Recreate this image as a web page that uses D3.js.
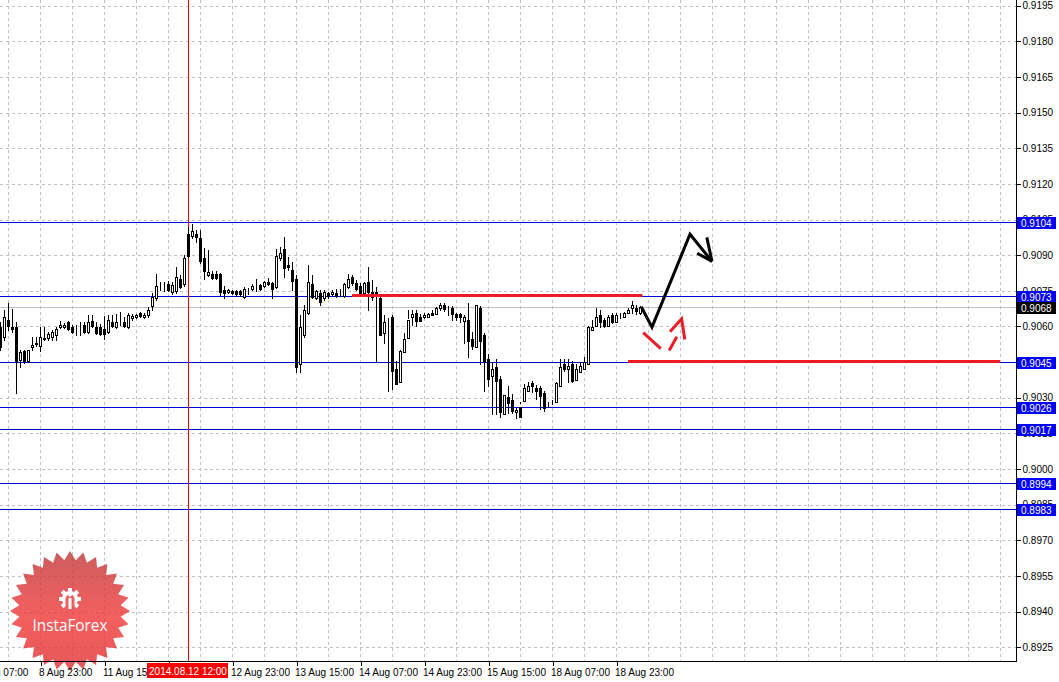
<!DOCTYPE html>
<html><head><meta charset="utf-8">
<script src="https://cdn.jsdelivr.net/npm/d3@7"></script>
<style>
html,body{margin:0;padding:0;background:#fff;overflow:hidden}
svg{display:block}
</style></head>
<body>
<svg id="chart" width="1059" height="682"></svg>
<script>
// ---- DATA (USDCHF H1, bars from 8 Aug 13:00) ----
const opens = [0.90599,0.90557,0.90628,0.90599,0.90599,0.90457,0.90495,0.90453,0.90512,0.90528,
0.90516,0.90549,0.90553,0.90557,0.90566,0.90599,0.90599,0.90620,0.90599,0.90591,
0.90599,0.90608,0.90578,0.90624,0.90599,0.90599,0.90591,0.90578,0.90620,0.90599,
0.90620,0.90620,0.90599,0.90637,0.90641,0.90658,0.90641,0.90649,0.90687,0.90720,
0.90775,0.90771,0.90779,0.90745,0.90750,0.90800,0.90779,0.90988,0.90979,0.90988,
0.90971,0.90887,0.90816,0.90821,0.90821,0.90821,0.90754,0.90745,0.90750,0.90750,
0.90750,0.90725,0.90750,0.90758,0.90775,0.90775,0.90771,0.90787,0.90783,0.90766,
0.90887,0.90925,0.90858,0.90837,0.90800,0.90441,0.90566,0.90658,0.90779,0.90720,
0.90741,0.90720,0.90741,0.90737,0.90741,0.90741,0.90729,0.90766,0.90808,0.90783,
0.90771,0.90741,0.90787,0.90745,0.90745,0.90720,0.90574,0.90628,0.90641,0.90420,
0.90365,0.90491,0.90553,0.90641,0.90658,0.90641,0.90641,0.90641,0.90658,0.90654,
0.90679,0.90691,0.90674,0.90679,0.90654,0.90654,0.90624,0.90628,0.90549,0.90512,
0.90679,0.90566,0.90461,0.90390,0.90428,0.90378,0.90232,0.90303,0.90290,0.90240,
0.90261,0.90286,0.90328,0.90361,0.90340,0.90340,0.90319,0.90269,0.90273,0.90282,
0.90349,0.90441,0.90420,0.90441,0.90374,0.90407,0.90420,0.90441,0.90587,0.90603,
0.90649,0.90628,0.90603,0.90649,0.90620,0.90649,0.90641,0.90658,0.90679,0.90679,
0.90658];
const highs = [0.90620,0.90670,0.90700,0.90674,0.90620,0.90503,0.90503,0.90503,0.90557,0.90557,
0.90599,0.90599,0.90578,0.90587,0.90599,0.90624,0.90616,0.90624,0.90608,0.90608,
0.90620,0.90620,0.90649,0.90649,0.90620,0.90612,0.90645,0.90649,0.90649,0.90654,
0.90662,0.90641,0.90658,0.90654,0.90654,0.90662,0.90658,0.90683,0.90741,0.90821,
0.90787,0.90787,0.90791,0.90787,0.90850,0.90816,0.90900,0.91017,0.91030,0.91004,
0.91004,0.90929,0.90921,0.90833,0.90833,0.90825,0.90771,0.90758,0.90754,0.90754,
0.90754,0.90766,0.90762,0.90779,0.90800,0.90779,0.90791,0.90804,0.90787,0.90925,
0.90933,0.90975,0.90892,0.90871,0.90816,0.90649,0.90691,0.90858,0.90816,0.90754,
0.90754,0.90754,0.90745,0.90754,0.90758,0.90758,0.90783,0.90821,0.90816,0.90796,
0.90783,0.90787,0.90850,0.90796,0.90766,0.90729,0.90649,0.90637,0.90649,0.90453,
0.90503,0.90574,0.90670,0.90670,0.90670,0.90654,0.90658,0.90658,0.90670,0.90683,
0.90700,0.90700,0.90687,0.90687,0.90658,0.90658,0.90649,0.90700,0.90578,0.90691,
0.90687,0.90574,0.90482,0.90449,0.90461,0.90390,0.90311,0.90349,0.90315,0.90257,
0.90282,0.90357,0.90365,0.90370,0.90353,0.90349,0.90328,0.90282,0.90290,0.90365,
0.90461,0.90461,0.90461,0.90453,0.90441,0.90449,0.90470,0.90603,0.90628,0.90679,
0.90670,0.90637,0.90649,0.90658,0.90658,0.90658,0.90662,0.90679,0.90708,0.90691,
0.90687];
const lows = [0.90503,0.90545,0.90587,0.90578,0.90319,0.90428,0.90445,0.90449,0.90503,0.90516,
0.90495,0.90545,0.90545,0.90545,0.90545,0.90595,0.90595,0.90587,0.90574,0.90566,
0.90566,0.90574,0.90574,0.90599,0.90570,0.90566,0.90549,0.90574,0.90599,0.90595,
0.90608,0.90599,0.90595,0.90628,0.90637,0.90641,0.90637,0.90641,0.90670,0.90712,
0.90754,0.90750,0.90750,0.90737,0.90741,0.90762,0.90771,0.90892,0.90971,0.90954,
0.90867,0.90800,0.90812,0.90800,0.90800,0.90733,0.90720,0.90741,0.90737,0.90729,
0.90729,0.90720,0.90737,0.90754,0.90750,0.90754,0.90766,0.90775,0.90720,0.90762,
0.90879,0.90808,0.90837,0.90754,0.90407,0.90407,0.90557,0.90654,0.90720,0.90716,
0.90691,0.90712,0.90720,0.90733,0.90725,0.90729,0.90725,0.90762,0.90775,0.90754,
0.90729,0.90733,0.90670,0.90712,0.90449,0.90566,0.90532,0.90328,0.90336,0.90357,
0.90482,0.90549,0.90637,0.90608,0.90603,0.90637,0.90637,0.90645,0.90649,0.90674,
0.90670,0.90666,0.90649,0.90628,0.90628,0.90620,0.90532,0.90470,0.90507,0.90524,
0.90441,0.90328,0.90349,0.90232,0.90232,0.90219,0.90244,0.90236,0.90236,0.90215,
0.90278,0.90324,0.90344,0.90324,0.90294,0.90253,0.90244,0.90261,0.90273,0.90344,
0.90399,0.90411,0.90365,0.90365,0.90399,0.90415,0.90436,0.90566,0.90595,0.90616,
0.90599,0.90599,0.90616,0.90616,0.90628,0.90637,0.90649,0.90670,0.90658,0.90654,
0.90654];
const closes = [0.90512,0.90641,0.90603,0.90591,0.90449,0.90491,0.90453,0.90499,0.90520,0.90529,
0.90557,0.90550,0.90570,0.90578,0.90591,0.90608,0.90608,0.90591,0.90578,0.90590,
0.90598,0.90578,0.90620,0.90603,0.90574,0.90570,0.90570,0.90628,0.90603,0.90620,
0.90619,0.90603,0.90649,0.90645,0.90649,0.90645,0.90649,0.90670,0.90725,0.90771,
0.90774,0.90770,0.90754,0.90775,0.90808,0.90766,0.90887,0.90896,0.91000,0.90975,
0.90875,0.90833,0.90829,0.90804,0.90804,0.90745,0.90741,0.90754,0.90741,0.90737,
0.90737,0.90758,0.90749,0.90771,0.90774,0.90758,0.90787,0.90779,0.90758,0.90896,
0.90908,0.90846,0.90850,0.90791,0.90428,0.90599,0.90670,0.90787,0.90725,0.90750,
0.90704,0.90745,0.90729,0.90745,0.90729,0.90740,0.90779,0.90800,0.90783,0.90758,
0.90741,0.90783,0.90745,0.90725,0.90733,0.90566,0.90620,0.90627,0.90411,0.90357,
0.90495,0.90549,0.90628,0.90654,0.90624,0.90624,0.90649,0.90654,0.90649,0.90679,
0.90691,0.90674,0.90673,0.90654,0.90641,0.90641,0.90641,0.90537,0.90516,0.90691,
0.90537,0.90453,0.90378,0.90420,0.90370,0.90240,0.90311,0.90278,0.90244,0.90248,
0.90219,0.90340,0.90349,0.90349,0.90328,0.90307,0.90257,0.90268,0.90272,0.90361,
0.90428,0.90420,0.90432,0.90370,0.90420,0.90432,0.90449,0.90599,0.90599,0.90641,
0.90620,0.90603,0.90641,0.90620,0.90649,0.90648,0.90658,0.90670,0.90691,0.90666,
0.90680];

const priceTicks = [0.9195,0.9180,0.9165,0.9150,0.9135,0.9120,0.9105,0.9090,0.9075,0.9060,0.9045,0.9030,0.9015,0.9000,0.8985,0.8970,0.8955,0.8940,0.8925];
const timeLabels = ["8 Aug 07:00","8 Aug 23:00","11 Aug 15:00","12 Aug 07:00","12 Aug 23:00","13 Aug 15:00","14 Aug 07:00","14 Aug 23:00","15 Aug 15:00","18 Aug 07:00","18 Aug 23:00"];
const timeLabelBars = [-6,10,26,42,58,74,90,106,122,138,154];
const levelPrices = [0.9104,0.9073,0.9045,0.9026,0.9017,0.8994,0.8983];
const bidPrice = 0.9068;
const markerBar = 47, markerLabel = "2014.08.12 12:00";
// analyst drawings (bar index, price)
const resistanceLine = {from:88, to:160.6, price:0.9073};
const supportLine = {from:157, to:250, price:0.90453};
const blackPath = [[160.3,0.90683],[163,0.90597],[172.5,0.90988],[178,0.90874]];
const blackHead = [[[174.3,0.90908],[178,0.90874]],[[176.7,0.90975],[178,0.90874]]];
const redSeg1 = [[160.8,0.90574],[165.2,0.90507]];
const redSeg2 = [[167.3,0.90499],[169.2,0.90557]];
const redHead = [[167.5,0.90578],[170.4,0.90632],[171.2,0.90545]];

// ---- LAYOUT ----
const W = 1059, H = 682, plotR = 1016, plotB = 661;
const svg = d3.select("#chart");
const x = d3.scaleLinear().domain([0, 254]).range([0, plotR]);
const y = d3.scaleLinear().domain([0.89192, 0.91974]).range([plotB, 0]);
const FONT = "'Liberation Sans', Arial, sans-serif";

svg.append("rect").attr("width",W).attr("height",H).attr("fill","#fff");
const defs = svg.append("defs");
defs.append("clipPath").attr("id","plotclip").append("rect").attr("x",0).attr("y",0).attr("width",plotR).attr("height",plotB);
const plot = svg.append("g").attr("clip-path","url(#plotclip)").attr("shape-rendering","crispEdges");

// grid
const gridBars = d3.range(2, 254, 8);
plot.selectAll(".vg").data(gridBars).join("line")
  .attr("x1",d=>Math.round(x(d))+0.5).attr("x2",d=>Math.round(x(d))+0.5)
  .attr("y1",0).attr("y2",plotB)
  .attr("stroke","#c0c0c0").attr("stroke-dasharray","3,3");
plot.selectAll(".hg").data(priceTicks).join("line")
  .attr("x1",0).attr("x2",plotR)
  .attr("y1",d=>Math.round(y(d))+0.5).attr("y2",d=>Math.round(y(d))+0.5)
  .attr("stroke","#c0c0c0").attr("stroke-dasharray","3,3");

// logo (under data)
const logo = svg.append("g").attr("transform","translate(70,611)").attr("opacity",0.82);
const grad = defs.append("linearGradient").attr("id","lg").attr("x1",0).attr("y1",0).attr("x2",0).attr("y2",1);
grad.append("stop").attr("offset","0%").attr("stop-color","#c23a3a");
grad.append("stop").attr("offset","55%").attr("stop-color","#f23c3c");
grad.append("stop").attr("offset","100%").attr("stop-color","#e03434");
const nPts = 28, R1 = 60, R2 = 51;
const starPts = d3.range(nPts*2).map(k=>{
  const a = k*Math.PI/nPts - Math.PI/2;
  const r = k%2===0 ? R1 : R2;
  return [r*Math.cos(a), r*Math.sin(a)];
});
logo.append("path").attr("d","M"+starPts.join("L")+"Z").attr("fill","url(#lg)");
// gear icon
const gear = logo.append("g").attr("transform","translate(0,-12)");
const teeth = 8;
gear.selectAll("rect").data(d3.range(teeth)).join("rect")
  .attr("x",-2).attr("y",-11).attr("width",4).attr("height",5)
  .attr("fill","#fff").attr("transform",d=>`rotate(${d*360/teeth})`);
gear.append("circle").attr("r",8).attr("fill","#fff");
gear.append("circle").attr("r",4.5).attr("fill","#e84040");
gear.append("rect").attr("x",-4.5).attr("y",0).attr("width",9).attr("height",12).attr("fill","#e84040");
gear.append("rect").attr("x",-1.5).attr("y",-1).attr("width",3).attr("height",11).attr("fill","#fff");
gear.append("circle").attr("cy",-4).attr("r",1.8).attr("fill","#fff");
logo.append("text").attr("x",0).attr("y",20).attr("text-anchor","middle")
  .attr("font-family","'Open Sans','Noto Sans',sans-serif").attr("font-size",17)
  .attr("textLength",75).attr("lengthAdjust","spacingAndGlyphs")
  .attr("fill","#fff").text("InstaForex");

// bid line
plot.append("line").attr("x1",0).attr("x2",plotR)
  .attr("y1",Math.round(y(bidPrice))+0.5).attr("y2",Math.round(y(bidPrice))+0.5)
  .attr("stroke","#c0c0c0");

// level lines
plot.selectAll(".lvl").data(levelPrices).join("line")
  .attr("x1",0).attr("x2",plotR)
  .attr("y1",d=>Math.round(y(d))+0.5).attr("y2",d=>Math.round(y(d))+0.5)
  .attr("stroke","#0000d8");

// vertical marker
plot.append("line").attr("x1",Math.round(x(markerBar))+0.5).attr("x2",Math.round(x(markerBar))+0.5)
  .attr("y1",0).attr("y2",plotB).attr("stroke","#ff0000");

// candles
const idx = d3.range(opens.length);
const cx = i => Math.round(x(i));
plot.selectAll(".wick").data(idx).join("line")
  .attr("x1",i=>cx(i)+0.5).attr("x2",i=>cx(i)+0.5)
  .attr("y1",i=>Math.round(y(highs[i]))).attr("y2",i=>Math.round(y(lows[i]))+1)
  .attr("stroke","#000");
plot.selectAll(".body").data(idx).join("rect")
  .attr("x",i=>cx(i)-0.5).attr("width",2)
  .attr("y",i=>Math.round(y(Math.max(opens[i],closes[i])))+0.5)
  .attr("height",i=>Math.max(0,Math.round(y(Math.min(opens[i],closes[i])))-Math.round(y(Math.max(opens[i],closes[i])))))
  .attr("fill",i=>closes[i]>=opens[i]?"#fff":"#000")
  .attr("stroke","#000");

// analyst drawings
const ann = svg.append("g").attr("clip-path","url(#plotclip)");
ann.append("line").attr("x1",x(resistanceLine.from)).attr("x2",x(resistanceLine.to))
  .attr("y1",y(resistanceLine.price)).attr("y2",y(resistanceLine.price))
  .attr("stroke","#ed1c24").attr("stroke-width",3);
ann.append("line").attr("x1",x(supportLine.from)).attr("x2",x(supportLine.to))
  .attr("y1",y(supportLine.price)).attr("y2",y(supportLine.price))
  .attr("stroke","#ed1c24").attr("stroke-width",3);
const ln = d3.line().x(d=>x(d[0])).y(d=>y(d[1]));
ann.append("path").attr("d",ln(blackPath)).attr("fill","none").attr("stroke","#000").attr("stroke-width",3).attr("stroke-linejoin","miter");
blackHead.forEach(s=>ann.append("path").attr("d",ln(s)).attr("fill","none").attr("stroke","#000").attr("stroke-width",3));
[redSeg1,redSeg2].forEach(s=>ann.append("path").attr("d",ln(s)).attr("fill","none").attr("stroke","#ed1c24").attr("stroke-width",3));
ann.append("path").attr("d",ln(redHead)).attr("fill","none").attr("stroke","#ed1c24").attr("stroke-width",3);

// axes frame
svg.append("line").attr("x1",plotR+0.5).attr("x2",plotR+0.5).attr("y1",0).attr("y2",plotB+1).attr("stroke","#000");
svg.append("line").attr("x1",0).attr("x2",plotR+1).attr("y1",plotB+0.5).attr("y2",plotB+0.5).attr("stroke","#000");

// right axis
const yAxis = d3.axisRight(y).tickValues(priceTicks).tickFormat(d3.format(".4f")).tickSize(4).tickPadding(2);
const ya = svg.append("g").attr("transform",`translate(${plotR+0.5},0)`).call(yAxis);
ya.select(".domain").remove();
ya.selectAll("text").attr("font-family",FONT).attr("font-size",10).attr("fill","#000");
ya.selectAll("line").attr("stroke","#000").attr("shape-rendering","crispEdges");

// bottom axis
const xAxis = d3.axisBottom(x).tickValues(timeLabelBars).tickFormat((d,i)=>timeLabels[i]).tickSize(4).tickPadding(2);
const xa = svg.append("g").attr("transform",`translate(0.5,${plotB+0.5})`).call(xAxis);
xa.select(".domain").remove();
xa.selectAll("text").attr("font-family",FONT).attr("font-size",10).attr("fill","#000")
  .attr("text-anchor","start").attr("dx",-2).attr("dy","0.8em");
xa.selectAll("line").attr("stroke","#000").attr("shape-rendering","crispEdges");

// level labels
const lblG = svg.append("g");
const allLbl = levelPrices.map(p=>({p, bg:"#0000ff"})).concat([{p:bidPrice,bg:"#000"}]);
allLbl.forEach(d=>{
  const yy = Math.round(y(d.p));
  lblG.append("rect").attr("x",plotR+1).attr("y",yy-5).attr("width",39).attr("height",12).attr("fill",d.bg);
  lblG.append("text").attr("x",plotR+5).attr("y",yy+5).attr("font-family",FONT).attr("font-size",10)
    .attr("fill","#fff").text(d3.format(".4f")(d.p));
});

// marker date label
const mx = x(markerBar);
svg.append("rect").attr("x",mx-41).attr("y",plotB+2).attr("width",81).attr("height",15).attr("fill","#ff0000");
svg.append("text").attr("x",mx).attr("y",plotB+14).attr("text-anchor","middle")
  .attr("font-family",FONT).attr("font-size",10).attr("fill","#fff").text(markerLabel);
</script>
</body></html>
